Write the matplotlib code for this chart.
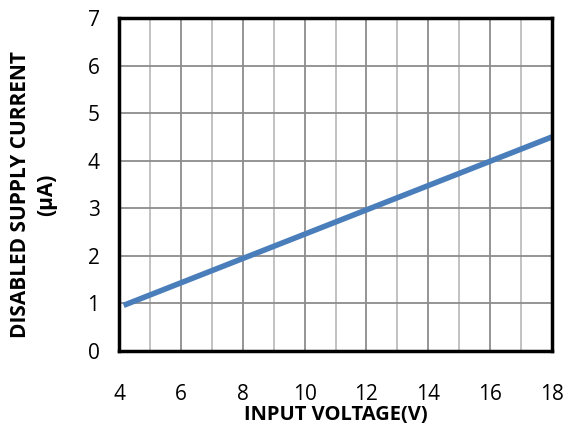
import matplotlib
matplotlib.use("Agg")
import matplotlib.pyplot as plt
import numpy as np

plt.rcParams['font.family'] = ['Open Sans', 'DejaVu Sans']

vin = [4.15, 18.0]
current = [0.96, 4.5]
xticks = [4, 6, 8, 10, 12, 14, 16, 18]
yticks = [0, 1, 2, 3, 4, 5, 6, 7]

fig = plt.figure(figsize=(5.68, 4.32), dpi=100)
ax = fig.add_axes([119 / 568, 1 - 351 / 432, (552 - 119) / 568, (351 - 18) / 432])
ax.set_xlim(4, 18)
ax.set_ylim(0, 7)

for x in range(5, 18):
    ax.axvline(x, color='#8c8c8c' if x % 2 == 0 else '#bdbdbd', lw=1.3, zorder=1)
for y in range(1, 7):
    ax.axhline(y, color='#8c8c8c', lw=1.3, zorder=1)

ax.plot(vin, current, color='#4a7ebb', lw=4, solid_capstyle='butt', zorder=3)

ax.set_xticks(xticks)
ax.set_yticks(yticks)
ax.tick_params(length=0, labelsize=15, colors='black')
ax.tick_params(axis='x', pad=24)
ax.tick_params(axis='y', pad=14)
for s in ax.spines.values():
    s.set_linewidth(2.5)
    s.set_color('black')
    s.set_zorder(4)

ax.set_xlabel('INPUT VOLTAGE(V)', fontsize=14.5, fontweight='bold')
ax.xaxis.set_label_coords(0.5, -0.162)
ax.set_ylabel('DISABLED SUPPLY CURRENT\n(µA)', fontsize=15, fontweight='bold',
              linespacing=1.3)
ax.yaxis.set_label_coords(-0.143, 0.47)

fig.savefig('out.png', dpi=100)
